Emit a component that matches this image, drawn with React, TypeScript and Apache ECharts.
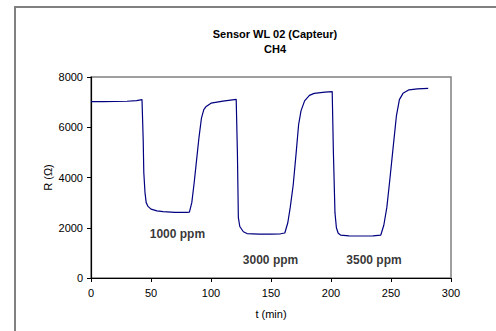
import React, { useEffect, useRef } from "react";
import * as echarts from "echarts";

const timeMin: number[] = [
  0, 10, 20, 30, 38, 42.5,
  43.5, 44, 45, 46, 47.5, 50, 55, 60, 70, 80, 82,
  84, 86, 88, 90, 92, 94, 96, 100, 110, 121,
  122, 122.8, 124, 127, 130, 140, 150, 158, 161.5,
  164, 166, 168.5, 171, 173, 175, 178, 182, 186, 195, 201,
  202, 203.3, 204.5, 206, 208, 215, 225, 235, 241.5,
  244, 246.5, 249, 252, 254.5, 257, 260, 265, 272, 281,
];
const resistance: number[] = [
  7020, 7020, 7025, 7035, 7060, 7100,
  5500, 4200, 3400, 3000, 2850, 2740, 2670, 2640, 2610, 2610, 2620,
  3000, 3800, 4700, 5600, 6350, 6700, 6830, 6960, 7040, 7110,
  5000, 2400, 2050, 1840, 1770, 1745, 1745, 1760, 1790,
  2200, 2800, 3700, 5000, 6100, 6650, 7050, 7270, 7350, 7400, 7420,
  5000, 2600, 2000, 1780, 1710, 1675, 1672, 1680, 1710,
  2100, 2800, 3900, 5300, 6450, 7100, 7350, 7490, 7530, 7550,
];

const labelNames: string[] = ["1000 ppm", "3000 ppm", "3500 ppm"];
const labelT: number[] = [72, 149.6, 235.8];
const labelR: number[] = [1751, 716, 716];

const xTicks: number[] = [0, 50, 100, 150, 200, 250, 300];
const yTicks: number[] = [0, 2000, 4000, 6000, 8000];

const FONT = "Arial, 'Liberation Sans', sans-serif";

export default function App() {
  const ref = useRef<HTMLDivElement>(null);
  useEffect(() => {
    if (!ref.current) return;
    const chart = echarts.init(ref.current, undefined, { renderer: "svg" });
    chart.setOption({
      animation: false,
      backgroundColor: "#ffffff",
      title: {
        text: "Sensor WL 02 (Capteur)\nCH4",
        left: 270,
        top: 21,
        textAlign: "center",
        textStyle: {
          fontFamily: FONT,
          fontSize: 11,
          fontWeight: "bold",
          color: "#000",
          lineHeight: 15,
        },
      },
      graphic: [
        {
          type: "rect",
          shape: { x: 15, y: 7, width: 600, height: 400 },
          style: { fill: "none", stroke: "#808080", lineWidth: 2 },
          silent: true,
        },
      ],
      grid: {
        left: 91,
        top: 77,
        width: 360,
        height: 201,
        show: true,
        borderColor: "#808080",
        borderWidth: 1.5,
        backgroundColor: "transparent",
      },
      xAxis: {
        type: "value",
        min: xTicks[0],
        max: xTicks[xTicks.length - 1],
        interval: 50,
        name: "t (min)",
        nameLocation: "middle",
        nameGap: 30,
        nameMoveOverlap: false,
        nameTextStyle: { fontFamily: FONT, fontSize: 11, color: "#000" },
        axisLine: { show: true, lineStyle: { color: "#000", width: 1.2 } },
        axisTick: { show: true, inside: false, length: 4, lineStyle: { color: "#000" } },
        axisLabel: {
          fontFamily: FONT,
          fontSize: 11,
          color: "#000",
          margin: 9,
          formatter: (v: number) => String(v),
        },
        splitLine: { show: false },
      },
      yAxis: {
        type: "value",
        min: yTicks[0],
        max: yTicks[yTicks.length - 1],
        interval: 2000,
        name: "R (Ω)",
        nameLocation: "middle",
        nameGap: 38,
        nameMoveOverlap: false,
        nameTextStyle: { fontFamily: FONT, fontSize: 11, color: "#000" },
        axisLine: { show: true, lineStyle: { color: "#000", width: 1.2 } },
        axisTick: { show: true, inside: false, length: 4, lineStyle: { color: "#000" } },
        axisLabel: {
          fontFamily: FONT,
          fontSize: 11,
          color: "#000",
          margin: 8,
          formatter: (v: number) => String(v),
        },
        splitLine: { show: false },
      },
      series: [
        {
          type: "line",
          data: timeMin.map((t, i) => [t, resistance[i]]),
          showSymbol: false,
          symbol: "none",
          smooth: false,
          lineStyle: { color: "#000080", width: 1.2 },
          z: 3,
        },
        {
          type: "scatter",
          data: labelT.map((t, i) => ({ name: labelNames[i], value: [t, labelR[i]] })),
          symbolSize: 0,
          label: {
            show: true,
            position: "inside",
            formatter: (p: any) => p.name,
            fontFamily: FONT,
            fontSize: 12,
            fontWeight: "bold",
            color: "#000",
          },
          silent: true,
        },
      ],
    });
    return () => chart.dispose();
  }, []);
  return (
    <div
      ref={ref}
      style={{ position: "fixed", left: 0, top: 0, width: 496, height: 331 }}
    />
  );
}
